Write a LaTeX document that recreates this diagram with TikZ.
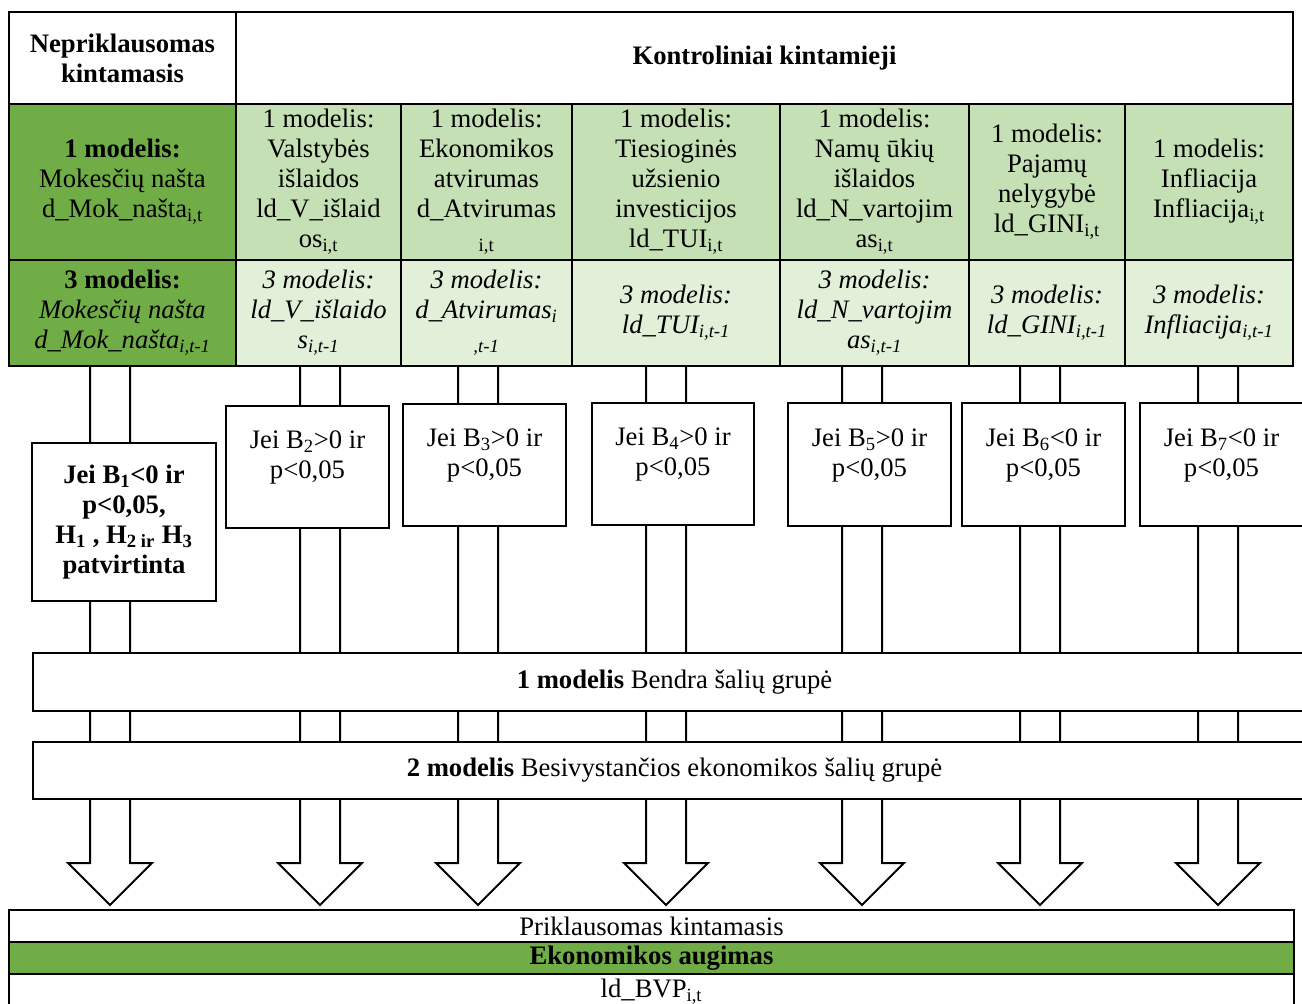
\documentclass[tikz,border=0pt]{standalone}
\usepackage{fontspec}
\setmainfont{Liberation Serif}
\usetikzlibrary{calc}
\definecolor{dgreen}{HTML}{70AD47}
\definecolor{lgreen}{HTML}{C5E0B4}
\definecolor{llgreen}{HTML}{E2F0D9}
\begin{document}
\begin{tikzpicture}[x=0.75pt,y=-0.75pt,
  every node/.style={font=\fontsize{20}{22.5}\selectfont, align=center, inner sep=0pt},
  span/.style args={#1/#2/#3/#4}{minimum width={(#3-#1)*0.75pt}, minimum height={(#4-#2)*0.75pt},
     at={({(#1+#3)/2},{(#2+#4)/2})}},
  cell/.style={draw, line width=1.5pt, inner sep=0pt, line join=miter},
  ital/.style={font=\fontsize{20}{22.5}\selectfont\itshape},
  bold/.style={font=\fontsize{20}{22.5}\selectfont\bfseries},
  cbox/.style={draw, fill=white, line width=1.8pt, inner sep=0pt},
  band/.style={draw, fill=white, line width=1.8pt, inner sep=0pt},
  harrow/.style={draw, line width=1.5pt, line join=miter}
]
\useasboundingbox (0,0) rectangle (1302,1003);
\begin{scope}
\clip (0,0) rectangle (1302,1003);
\fill[white] (0,0) rectangle (1302,1003);

% ---------- top table ----------
\node[cell, bold, span=9/12/236/104] (h1) {Nepriklausomas\\kintamasis};
\node[cell, bold, span=236/12/1293/104] (h2) {Kontroliniai kintamieji};

\node[cell, fill=dgreen, span=9/104/236/260] (m1)
  {\textbf{1 modelis:}\\Mokesčių našta\\d\_Mok\_našta\textsubscript{i,t}};
\node[cell, fill=lgreen, span=236/104/401/260] (c2a)
  {1 modelis:\\Valstybės\\išlaidos\\ld\_V\_išlaid\\os\textsubscript{i,t}};
\node[cell, fill=lgreen, span=401/104/572/260] (c3a)
  {1 modelis:\\Ekonomikos\\atvirumas\\d\_Atvirumas\\\textsubscript{i,t}};
\node[cell, fill=lgreen, span=572/104/780/260] (c4a)
  {1 modelis:\\Tiesioginės\\užsienio\\investicijos\\ld\_TUI\textsubscript{i,t}};
\node[cell, fill=lgreen, span=780/104/969/260] (c5a)
  {1 modelis:\\Namų ūkių\\išlaidos\\ld\_N\_vartojim\\as\textsubscript{i,t}};
\node[cell, fill=lgreen, span=969/104/1125/260] (c6a)
  {1 modelis:\\Pajamų\\nelygybė\\ld\_GINI\textsubscript{i,t}};
\node[cell, fill=lgreen, span=1125/104/1293/260] (c7a)
  {1 modelis:\\Infliacija\\Infliacija\textsubscript{i,t}};

\node[cell, fill=dgreen, span=9/260/236/366] (m3)
  {\textbf{3 modelis:}\\\textit{Mokesčių našta}\\\textit{d\_Mok\_našta\textsubscript{i,t-1}}};
\node[cell, ital, fill=llgreen, span=236/260/401/366] (c2b)
  {3 modelis:\\ld\_V\_išlaido\\s\textsubscript{i,t-1}};
\node[cell, ital, fill=llgreen, span=401/260/572/366] (c3b)
  {3 modelis:\\d\_Atvirumas\textsubscript{i}\\\textsubscript{,t-1}};
\node[cell, ital, fill=llgreen, span=572/260/780/366] (c4b)
  {3 modelis:\\ld\_TUI\textsubscript{i,t-1}};
\node[cell, ital, fill=llgreen, span=780/260/969/366] (c5b)
  {3 modelis:\\ld\_N\_vartojim\\as\textsubscript{i,t-1}};
\node[cell, ital, fill=llgreen, span=969/260/1125/366] (c6b)
  {3 modelis:\\ld\_GINI\textsubscript{i,t-1}};
\node[cell, ital, fill=llgreen, span=1125/260/1293/366] (c7b)
  {3 modelis:\\Infliacija\textsubscript{i,t-1}};

% ---------- hollow block arrows ----------
\foreach \i/\x in {1/110,2/320,3/478,4/666,5/862,6/1040,7/1218}{
  \coordinate (t\i) at (\x,366);
  \coordinate (p\i) at (\x,905);
  \draw[harrow] ($(t\i)+(-20,0)$) -- ($(p\i)+(-20,-42)$) -- ($(p\i)+(-42,-42)$)
     -- (p\i) -- ($(p\i)+(42,-42)$) -- ($(p\i)+(20,-42)$) -- ($(t\i)+(20,0)$);
}

% ---------- condition boxes ----------
\node[cbox, bold, span=32/443/216/601] (b1)
  {Jei B\textsubscript{1}<0 ir\\p<0,05,\\H\textsubscript{1} , H\textsubscript{2 ir} H\textsubscript{3}\\patvirtinta};
\node[cbox, span=226/406/389/528] (b2) {};
\node[cbox, span=403/404/566/526] (b3) {};
\node[cbox, span=592/403/754/525] (b4) {};
\node[cbox, span=788/403/951/526] (b5) {};
\node[cbox, span=962/403/1125/526] (b6) {};
\node[cbox, span=1140/403/1303/526] (b7) {};
\node (j2) at ([yshift=7pt]b2.center) {Jei B\textsubscript{2}>0 ir\\p<0,05};
\node (j3) at ([yshift=7pt]b3.center) {Jei B\textsubscript{3}>0 ir\\p<0,05};
\node (j4) at ([yshift=7pt]b4.center) {Jei B\textsubscript{4}>0 ir\\p<0,05};
\node (j5) at ([yshift=7pt]b5.center) {Jei B\textsubscript{5}>0 ir\\p<0,05};
\node (j6) at ([yshift=7pt]b6.center) {Jei B\textsubscript{6}<0 ir\\p<0,05};
\node (j7) at ([yshift=7pt]b7.center) {Jei B\textsubscript{7}<0 ir\\p<0,05};

% ---------- model bands ----------
\node[band, span=33/653/1316/711] (band1) {\textbf{1 modelis} Bendra šalių grupė};
\node[band, span=33/742/1316/799] (band2) {\textbf{2 modelis} Besivystančios ekonomikos šalių grupė};

% ---------- bottom table ----------
\node[cell, fill=white, span=9/910/1294/942] (r1) {Priklausomas kintamasis};
\node[cell, bold, fill=dgreen, span=9/942/1294/974] (r2) {Ekonomikos augimas};
\node[cell, fill=white, span=9/974/1294/1010] (r3) {ld\_BVP\textsubscript{i,t}};
\end{scope}
\end{tikzpicture}
\end{document}
